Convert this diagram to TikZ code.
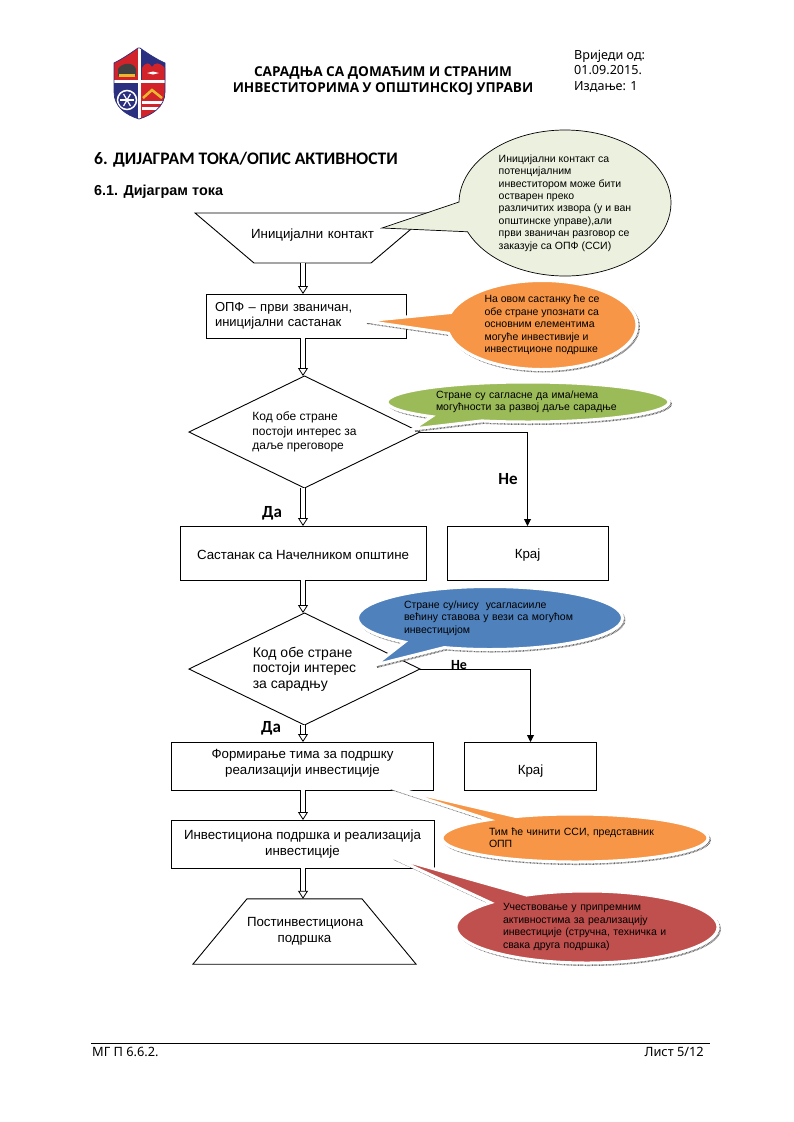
\documentclass[tikz,border=0pt]{standalone}
\usepackage{fontspec}
\setmainfont{Liberation Sans}
\newfontfamily\headfont{Noto Sans}
\newfontfamily\boldheadfont{Open Sans}
\newfontfamily\titlefont{Carlito}
\usetikzlibrary{positioning,shapes.geometric,shapes.callouts,shadows,arrows.meta}
\definecolor{calloutpale}{HTML}{EBF1DE}
\definecolor{calloutorange}{HTML}{F79646}
\definecolor{calloutgreen}{HTML}{9BBB59}
\definecolor{calloutblue}{HTML}{4F81BD}
\definecolor{calloutred}{HTML}{C0504D}
\definecolor{shieldred}{HTML}{D2232A}
\definecolor{shieldnavy}{HTML}{2B2F7F}
\definecolor{shieldgold}{HTML}{E8B92E}
\begin{document}
\begin{tikzpicture}[x=1pt,y=-1pt,
    flowbox/.style={rectangle, draw, line width=0.9pt, outer sep=0pt, inner sep=0pt, align=center, font=\fontsize{13.3}{15.5}\selectfont},
    flowdiamond/.style={diamond, aspect=2.06, draw, line width=0.9pt, outer sep=0pt, inner sep=0pt, align=left, minimum width=231pt, minimum height=112pt, font=\fontsize{12}{14.7}\selectfont},
    flowtrap/.style={trapezium, draw, line width=0.9pt, outer sep=0pt, inner sep=0pt, align=center, font=\fontsize{13.3}{15.5}\selectfont},
    blockarrow/.style={draw, line width=0.8pt, double, double distance=3.6pt, -{Triangle[open, fill=white, length=8pt, width=10pt]}},
    sidearrow/.style={draw, line width=0.9pt, -{Triangle[length=7pt, width=7pt]}},
    bubble/.style={ellipse callout, align=left, inner sep=0pt, outer sep=0pt, font=\fontsize{10.5}{12.4}\selectfont},
    shadowbubble/.style={bubble, draw=white, line width=3pt, fill=#1,
        general shadow={shadow xshift=2pt, shadow yshift=-2pt, draw=black!60, fill=white, line width=2pt, dash pattern=on 0.7pt off 0.7pt}},
    answer/.style={font=\titlefont\bfseries\fontsize{17}{19}\selectfont, inner sep=0pt}]
\useasboundingbox (0,0) rectangle (793,1122);

% header
\begin{scope}
    \clip (114,63) .. controls (122,59) and (131,53) .. (138,48) -- (140,48) .. controls (147,53) and (156,59) .. (165,63)
        -- (165,92) .. controls (165,107) and (152,115) .. (139,119) .. controls (126,115) and (114,107) .. (114,92) -- cycle;
    \fill[shieldred] (110,45) rectangle (139,81);
    \fill[shieldnavy] (139,45) rectangle (170,81);
    \fill[shieldnavy] (110,81) rectangle (139,122);
    \fill[shieldred] (139,81) rectangle (170,122);
    % top right
    \fill[shieldred] (142,81) -- (142,68) .. controls (146,62) and (149,62) .. (152,67) .. controls (155,62) and (159,62) .. (165,68) -- (165,81) -- cycle;
    \fill[white] (147,73) -- (153,71.5) -- (159,73) -- (153,74.5) -- cycle;
    % crown
    \fill[black!75] (118,76) -- (118,69) .. controls (122,62) and (134,62) .. (136,69) -- (136,76) -- cycle;
    \fill[shieldgold] (119,74) rectangle (135,77);
    % wheel
    \draw[white, line width=1.5pt] (127,100) circle (9.5pt);
    \foreach \a in {0,60,...,300} {
        \draw[white, line width=1.2pt] (127,100) -- ++(\a:7pt);
    }
    % bottom right
    \draw[shieldgold, line width=2.5pt] (143,98) -- (152,90) -- (162,98);
    \fill[white] (142,101) rectangle (166,104);
    \fill[white] (142,107) rectangle (166,110);
    % cross
    \fill[white] (137.8,45) rectangle (141,122);
    \fill[white] (110,80) rectangle (170,82.5);
\end{scope}
\draw[shieldnavy, line width=0.7pt] (114,63) .. controls (122,59) and (131,53) .. (138,48) -- (140,48) .. controls (147,53) and (156,59) .. (165,63)
    -- (165,92) .. controls (165,107) and (152,115) .. (139,119) .. controls (126,115) and (114,107) .. (114,92) -- cycle;

\node[align=center, inner sep=0pt, font=\boldheadfont\bfseries\fontsize{13.6}{16}\selectfont] (naslov) at (383,81) {САРАДЊА СА ДОМАЋИМ И СТРАНИМ\\ИНВЕСТИТОРИМА У ОПШТИНСКОЈ УПРАВИ};
\node[align=left, anchor=north west, inner sep=0pt, font=\headfont\fontsize{12.6}{15.5}\selectfont] (izdanje) at (574,50) {Вриједи од:\\01.09.2015.\\Издање: 1};
\node[anchor=west, inner sep=0pt, font=\titlefont\bfseries\fontsize{17.6}{20}\selectfont] (poglavlje) at (94,160) {6. ДИЈАГРАМ ТОКА/ОПИС АКТИВНОСТИ};
\node[anchor=west, inner sep=0pt, font=\bfseries\fontsize{14.4}{16}\selectfont] (odjeljak) at (94,192) {6.1. Дијаграм тока};

% flow
\node[flowbox, minimum width=246pt, minimum height=54pt, text height=13pt] (sastanak) at (303,553) {Састанак са Начелником општине};
\node[flowbox, minimum width=161pt, minimum height=54pt, text height=13pt] (kraj1) [right=21pt of sastanak] {Крај};
\node[flowdiamond] (interes1) at (304.5,432) {Код обе стране\\постоји интерес за\\даље преговоре};
\node[flowbox, minimum width=200pt, minimum height=44pt, align=left, text width=182pt, font=\fontsize{13}{15.5}\selectfont] (opf) at (306,316) {ОПФ – први званичан,\\иницијални састанак};
\node[flowtrap, shape border rotate=180, trapezium left angle=40.3, trapezium right angle=40.3, text width=117pt, text height=25pt, text depth=25pt] (kontakt) at (312.5,238) {\makebox[117pt]{Иницијални контакт}};
\node[flowdiamond, font=\fontsize{14}{15.5}\selectfont] (interes2) at (304.5,669) {Код обе стране\\постоји интерес\\за сарадњу};
\node[flowbox, minimum width=262pt, minimum height=48pt, text depth=8pt] (tim) at (302.5,766) {Формирање тима за подршку\\реализацији инвестиције};
\node[flowbox, minimum width=132pt, minimum height=48pt, text height=20pt] (kraj2) [right=31pt of tim] {Крај};
\node[flowbox, minimum width=263pt, minimum height=48pt] (podrska) at (302.5,844) {Инвестициона подршка и реализација\\инвестиције};
\node[flowtrap, trapezium left angle=50.4, trapezium right angle=50.4, text width=115pt, inner ysep=19pt] (post) at (304.5,931.5) {Постинвестициона\\подршка};

\draw[blockarrow] (kontakt.south -| sastanak) -- (opf.north -| sastanak);
\draw[blockarrow] (opf.south -| sastanak) -- (interes1.north -| sastanak);
\draw[blockarrow] (interes1.south -| sastanak) -- (sastanak.north);
\draw[blockarrow] (sastanak.south) -- (interes2.north -| sastanak);
\draw[blockarrow] (interes2.south -| sastanak) -- (tim.north -| sastanak);
\draw[blockarrow] (tim.south -| sastanak) -- (podrska.north -| sastanak);
\draw[blockarrow] (podrska.south -| sastanak) -- (post.north -| sastanak);
\draw[sidearrow] (interes1.east) -| (kraj1.north);
\draw[sidearrow] (interes2.east) -| (kraj2.north);

\node[answer] (da1) at (272,513) {Да};
\node[answer] (ne1) at (508,479) {Не};
\node[answer] (da2) at (271,728) {Да};
\node[answer, font=\titlefont\bfseries\fontsize{14}{16}\selectfont] (ne2) at (459,665) {Не};

% callouts
\node[bubble, draw, line width=0.7pt, fill=calloutpale, minimum width=212pt, minimum height=146pt, callout absolute pointer={(382,228)}, callout pointer arc=24] (napomena1) at (565,203) {Иницијални контакт са\\потенцијалним\\инвеститором може бити\\остварен преко\\различитих извора (у и ван\\општинске управе),али\\први званичан разговор се\\заказује са ОПФ (ССИ)};
\node[shadowbubble=calloutorange, minimum width=190pt, minimum height=89pt, callout absolute pointer={(365,321)}, callout pointer arc=27] (napomena2) at (542,325) {На овом састанку ће се\\обе стране упознати са\\основним елементима\\могуће инвестивије и\\инвестиционе подршке};
\node[shadowbubble=calloutgreen, minimum width=282pt, minimum height=40pt, text width=184pt, callout absolute pointer={(413,429)}, callout pointer arc=24] (napomena3) at (528,402) {Стране су сагласне да има/нема\\могућности за развој даље сарадње};
\node[shadowbubble=calloutblue, minimum width=265pt, minimum height=63pt, text width=172pt, callout absolute pointer={(375,665)}, callout pointer arc=20] (napomena4) at (490,618) {Стране су/нису\ \ усагласииле\\већину ставова у вези са могућом\\инвестицијом};
\node[shadowbubble=calloutorange, minimum width=266pt, minimum height=48pt, text width=172pt, callout absolute pointer={(389,787)}, callout pointer arc=14] (napomena5) at (575,838) {Тим ће чинити ССИ, представник\\ОПП};
\node[shadowbubble=calloutred, minimum width=262pt, minimum height=72pt, text width=168pt, callout absolute pointer={(392,857)}, callout pointer arc=20] (napomena6) at (587,927) {Учествовање у припремним\\активностима за реализацију\\инвестиције (стручна, техничка и\\свака друга подршка)};

% footer
\coordinate (fleft) at (91,1043);
\coordinate (fright) at (710,1043);
\draw[line width=0.7pt] (fleft) -- (fright);
\node[anchor=west, inner sep=0pt, font=\headfont\fontsize{12.8}{14}\selectfont] (oznaka) at (92,1052) {МГ П 6.6.2.};
\node[anchor=east, inner sep=0pt, font=\headfont\fontsize{12.8}{14}\selectfont] (list) at (704,1052) {Лист 5/12};
\end{tikzpicture}
\end{document}
